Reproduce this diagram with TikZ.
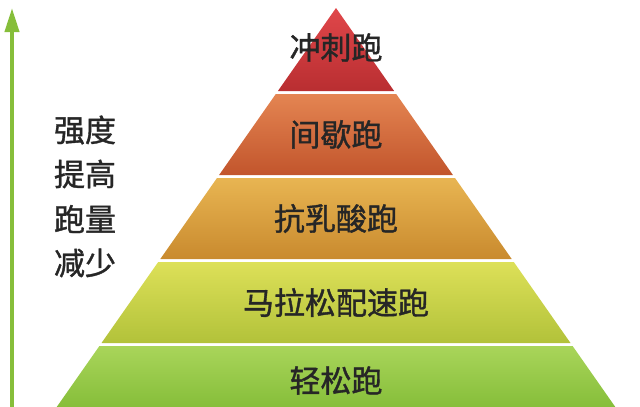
\documentclass[tikz,border=0pt]{standalone}
\usepackage{fontspec}
\newfontfamily\cjk[FakeBold=1.2]{Noto Sans CJK SC}
\usetikzlibrary{arrows.meta,calc}
\begin{document}
\begin{tikzpicture}[x=1pt,y=-1pt,
  lbl/.style={font=\cjk\fontsize{31}{32}\selectfont,text=black!85},
  side/.style={font=\cjk\fontsize{31}{32}\selectfont,text=black!85,align=left}]
\useasboundingbox (0,0) rectangle (640,407);
\def\cx{336}\def\k{0.70}
\newcommand\band[5]{% ytop ybot topcol botcol name
  \shade[top color=#3,bottom color=#4]
   ({\cx-\k*(#1-8)},#1) -- ({\cx+\k*(#1-8)},#1) -- ({\cx+\k*(#2-8)},#2) -- ({\cx-\k*(#2-8)},#2) -- cycle;
  \coordinate (#5) at (\cx,{(#1+#2)/2});}
\definecolor{r1}{HTML}{E0474A}\definecolor{r2}{HTML}{B92E31}
\definecolor{o1}{HTML}{E48552}\definecolor{o2}{HTML}{C2552C}
\definecolor{y1}{HTML}{E8B552}\definecolor{y2}{HTML}{C98A2E}
\definecolor{g1}{HTML}{DDE058}\definecolor{g2}{HTML}{B2C23A}
\definecolor{l1}{HTML}{A9D55A}\definecolor{l2}{HTML}{86BE3A}
\band{8}{91}{r1}{r2}{b1}
\band{94}{175}{o1}{o2}{b2}
\band{178}{259}{y1}{y2}{b3}
\band{262}{343}{g1}{g2}{b4}
\band{346}{407}{l1}{l2}{b5}
\node[lbl] (t1) at ($(b1)+(0,-2)$) {冲刺跑};
\node[lbl] (t2) at (b2) {间歇跑};
\node[lbl] (t3) at (b3) {抗乳酸跑};
\node[lbl] (t4) at (b4) {马拉松配速跑};
\node[lbl] (t5) at ($(b5)+(0,4)$) {轻松跑};
\node[side] (s1) at (85,130) {强度};
\node[side] (s2) at (85,174) {提高};
\node[side] (s3) at (85,219) {跑量};
\node[side] (s4) at (85,263) {减少};
\coordinate (a0) at (12,407);
\coordinate (a1) at (12,8);
\draw[line width=4pt,color=l2,-{Triangle[width=14pt,length=24pt]}] (a0) -- (a1);
\end{tikzpicture}
\end{document}
